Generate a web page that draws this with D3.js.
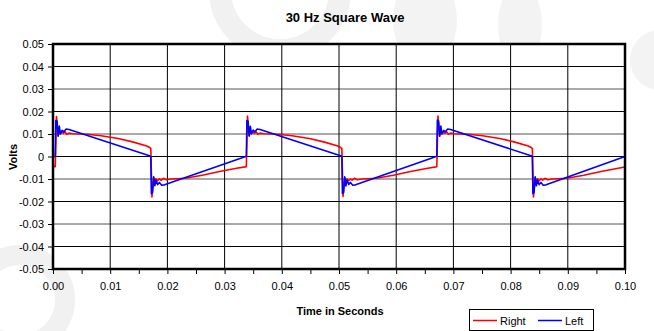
<!DOCTYPE html>
<html>
<head>
<meta charset="utf-8">
<script src="https://cdn.jsdelivr.net/npm/d3@7/dist/d3.min.js"></script>
<style>
  html, body { margin: 0; padding: 0; background: #ffffff; }
  svg { display: block; font-family: "Liberation Sans", Arial, sans-serif; }
</style>
</head>
<body>
<div id="chart"></div>
<script>
// ---- Data ----
const chartTitle = "30 Hz Square Wave";
const xTitle = "Time in Seconds";
const yTitle = "Volts";
const seriesNames = ["Right", "Left"];
const seriesColors = ["#ff0000", "#0000ff"];

const xTicks = [0.00, 0.01, 0.02, 0.03, 0.04, 0.05, 0.06, 0.07, 0.08, 0.09, 0.10];
const xMinorTicks = [0.005, 0.015, 0.025, 0.035, 0.045, 0.055, 0.065, 0.075, 0.085, 0.095];
const yTicks = [-0.05, -0.04, -0.03, -0.02, -0.01, 0, 0.01, 0.02, 0.03, 0.04, 0.05];

// Right channel: time (s), volts
const rightTime = [
  0.0000, 0.0004, 0.0006, 0.0008, 0.0009, 0.0011, 0.0013, 0.0015, 0.0018, 0.0021, 0.0024, 0.0028, 0.0034,
  0.0059, 0.0084, 0.0114, 0.0139, 0.0164, 0.0169,
  0.0171, 0.0173, 0.0175, 0.0176, 0.0178, 0.0180, 0.0183, 0.0186, 0.0189, 0.0193, 0.0198, 0.0206,
  0.0231, 0.0261, 0.0291, 0.0321, 0.0336,
  0.0338, 0.0340, 0.0342, 0.0343, 0.0345, 0.0347, 0.0349, 0.0352, 0.0355, 0.0358, 0.0362, 0.0368,
  0.0393, 0.0418, 0.0448, 0.0473, 0.0498, 0.0503,
  0.0505, 0.0507, 0.0509, 0.0510, 0.0512, 0.0514, 0.0517, 0.0520, 0.0523, 0.0527, 0.0532, 0.0540,
  0.0565, 0.0595, 0.0625, 0.0655, 0.0670,
  0.0671, 0.0673, 0.0675, 0.0676, 0.0678, 0.0680, 0.0682, 0.0685, 0.0688, 0.0691, 0.0695, 0.0701,
  0.0726, 0.0751, 0.0781, 0.0806, 0.0831, 0.0836,
  0.0838, 0.0840, 0.0842, 0.0843, 0.0845, 0.0847, 0.0850, 0.0853, 0.0856, 0.0860, 0.0865, 0.0873,
  0.0898, 0.0928, 0.0958, 0.0988, 0.1000
];
const rightVolts = [
  -0.0044, -0.0045, 0.0178, 0.0125, 0.0092, 0.0118, 0.0101, 0.0112, 0.0103, 0.0111, 0.0098, 0.0104, 0.0101,
  0.0099, 0.0092, 0.0080, 0.0065, 0.0047, 0.0040,
  0.0035, -0.0180, -0.0122, -0.0094, -0.0114, -0.0099, -0.0108, -0.0099, -0.0106, -0.0097, -0.0103, -0.0100,
  -0.0097, -0.0083, -0.0067, -0.0052, -0.0046,
  -0.0045, 0.0180, 0.0124, 0.0091, 0.0117, 0.0102, 0.0112, 0.0102, 0.0110, 0.0099, 0.0104, 0.0101,
  0.0099, 0.0092, 0.0080, 0.0065, 0.0047, 0.0040,
  0.0035, -0.0178, -0.0121, -0.0095, -0.0113, -0.0099, -0.0107, -0.0100, -0.0105, -0.0097, -0.0103, -0.0100,
  -0.0097, -0.0083, -0.0067, -0.0052, -0.0046,
  -0.0045, 0.0180, 0.0124, 0.0092, 0.0117, 0.0101, 0.0111, 0.0103, 0.0110, 0.0099, 0.0104, 0.0101,
  0.0099, 0.0092, 0.0080, 0.0065, 0.0047, 0.0040,
  0.0035, -0.0180, -0.0122, -0.0094, -0.0114, -0.0099, -0.0108, -0.0099, -0.0105, -0.0097, -0.0103, -0.0100,
  -0.0097, -0.0083, -0.0067, -0.0052, -0.0047
];

// Left channel: time (s), volts
const leftTime = [
  0.0000, 0.0004, 0.0005, 0.0007, 0.0009, 0.0011, 0.0013, 0.0016, 0.0019, 0.0023, 0.0028,
  0.0170, 0.0171, 0.0172, 0.0174, 0.0176, 0.0178, 0.0180, 0.0183, 0.0186, 0.0190, 0.0195,
  0.0337, 0.0338, 0.0339, 0.0341, 0.0343, 0.0345, 0.0347, 0.0350, 0.0353, 0.0357, 0.0362,
  0.0504, 0.0505, 0.0506, 0.0508, 0.0510, 0.0512, 0.0514, 0.0517, 0.0520, 0.0524, 0.0529,
  0.0670, 0.0671, 0.0672, 0.0674, 0.0676, 0.0678, 0.0680, 0.0683, 0.0686, 0.0690, 0.0695,
  0.0837, 0.0838, 0.0839, 0.0841, 0.0843, 0.0845, 0.0847, 0.0850, 0.0853, 0.0857, 0.0862,
  0.1000
];
const leftVolts = [
  0.0000, 0.0000, 0.0160, 0.0158, 0.0090, 0.0135, 0.0100, 0.0116, 0.0110, 0.0122, 0.0120,
  0.0002, -0.0001, -0.0165, -0.0160, -0.0090, -0.0130, -0.0105, -0.0125, -0.0115, -0.0128, -0.0126,
  0.0000, 0.0000, 0.0160, 0.0157, 0.0091, 0.0134, 0.0101, 0.0117, 0.0110, 0.0122, 0.0120,
  0.0002, -0.0001, -0.0164, -0.0160, -0.0090, -0.0131, -0.0105, -0.0124, -0.0115, -0.0128, -0.0126,
  0.0000, 0.0000, 0.0162, 0.0158, 0.0090, 0.0135, 0.0100, 0.0116, 0.0110, 0.0122, 0.0120,
  0.0002, -0.0001, -0.0165, -0.0160, -0.0090, -0.0130, -0.0105, -0.0125, -0.0115, -0.0128, -0.0126,
  0.0000
];

// ---- Chart ----
const W = 654, H = 331;
const svg = d3.select("#chart").append("svg").attr("width", W).attr("height", H);

// faint background watermark shapes
const bg = svg.append("g");
bg.append("circle").attr("cx", 280).attr("cy", -10).attr("r", 60).attr("fill", "none").attr("stroke", "#f1f1f1").attr("stroke-width", 22);
bg.append("ellipse").attr("cx", 425).attr("cy", 20).attr("rx", 32).attr("ry", 45).attr("fill", "#f3f3f3");
bg.append("ellipse").attr("cx", 520).attr("cy", 25).attr("rx", 22).attr("ry", 40).attr("fill", "#f3f3f3");
bg.append("circle").attr("cx", 20).attr("cy", 300).attr("r", 45).attr("fill", "none").attr("stroke", "#f1f1f1").attr("stroke-width", 20);
bg.append("circle").attr("cx", 660).attr("cy", 60).attr("r", 30).attr("fill", "#f3f3f3");

const x = d3.scaleLinear().domain([0, 0.1]).range([53, 625]);
const y = d3.scaleLinear().domain([-0.05, 0.05]).range([269, 44]);

// plot area
svg.append("rect").attr("x", x(0)).attr("y", y(0.05))
  .attr("width", x(0.1) - x(0)).attr("height", y(-0.05) - y(0.05))
  .attr("fill", "#ffffff");

// gridlines
const grid = svg.append("g").attr("stroke", "#000").attr("stroke-width", 1);
grid.selectAll("line.h").data(yTicks).join("line").attr("class", "h")
  .attr("x1", x(0)).attr("x2", x(0.1))
  .attr("y1", d => y(d)).attr("y2", d => y(d))
  .attr("stroke", (d, i) => (i % 2 === 0 ? "#555" : "#000"));
grid.selectAll("line.v").data(xTicks).join("line").attr("class", "v")
  .attr("y1", y(0.05)).attr("y2", y(-0.05))
  .attr("x1", d => x(d)).attr("x2", d => x(d));

// series lines
const line = d3.line().x(d => x(d[0])).y(d => y(d[1]));
const rightData = rightTime.map((t, i) => [t, rightVolts[i]]);
const leftData = leftTime.map((t, i) => [t, leftVolts[i]]);
svg.append("path").datum(rightData).attr("d", line)
  .attr("fill", "none").attr("stroke", seriesColors[0]).attr("stroke-width", 1.6).attr("stroke-linejoin", "round");
svg.append("path").datum(leftData).attr("d", line)
  .attr("fill", "none").attr("stroke", seriesColors[1]).attr("stroke-width", 1.6).attr("stroke-linejoin", "round");

// frame
svg.append("rect").attr("x", x(0)).attr("y", y(0.05))
  .attr("width", x(0.1) - x(0)).attr("height", y(-0.05) - y(0.05))
  .attr("fill", "none").attr("stroke", "#000").attr("stroke-width", 2.5);

// axes
const fmtY = d => (d === 0 ? "0" : d.toFixed(2));
const yAxis = svg.append("g").attr("transform", `translate(${x(0) - 1},0)`)
  .call(d3.axisLeft(y).tickValues(yTicks).tickFormat(fmtY).tickSize(4).tickPadding(4));
const xAxis = svg.append("g").attr("transform", `translate(0,${y(-0.05) + 1})`)
  .call(d3.axisBottom(x).tickValues(xTicks).tickFormat(d => d.toFixed(2)).tickSize(4).tickPadding(8));
const xMinor = svg.append("g").attr("transform", `translate(0,${y(-0.05) + 1})`)
  .call(d3.axisBottom(x).tickValues(xMinorTicks).tickFormat("").tickSize(4));
[yAxis, xAxis, xMinor].forEach(g => {
  g.select(".domain").remove();
  g.selectAll(".tick line").attr("stroke", "#000");
  g.selectAll("text").attr("fill", "#000").style("font-size", "11px")
    .style("font-family", "'Liberation Sans', Arial, sans-serif");
});

// titles
svg.append("text").attr("x", 345).attr("y", 22).attr("text-anchor", "middle")
  .style("font-size", "13px").style("font-weight", "bold").text(chartTitle);
svg.append("text").attr("x", 340).attr("y", 315).attr("text-anchor", "middle")
  .style("font-size", "11px").style("font-weight", "bold").text(xTitle);
svg.append("text").attr("transform", "translate(17,157) rotate(-90)").attr("text-anchor", "middle")
  .style("font-size", "11px").style("font-weight", "bold").text(yTitle);

// legend
const lg = svg.append("g");
lg.append("rect").attr("x", 469.5).attr("y", 309.5).attr("width", 124).attr("height", 21)
  .attr("fill", "#fff").attr("stroke", "#000").attr("stroke-width", 1);
const legendItems = [
  { name: seriesNames[0], color: seriesColors[0], x0: 473 },
  { name: seriesNames[1], color: seriesColors[1], x0: 538 }
];
legendItems.forEach(it => {
  lg.append("line").attr("x1", it.x0).attr("x2", it.x0 + 24).attr("y1", 320.5).attr("y2", 320.5)
    .attr("stroke", it.color).attr("stroke-width", 1.5);
  lg.append("text").attr("x", it.x0 + 27).attr("y", 325).style("font-size", "11px").text(it.name);
});
</script>
</body>
</html>
